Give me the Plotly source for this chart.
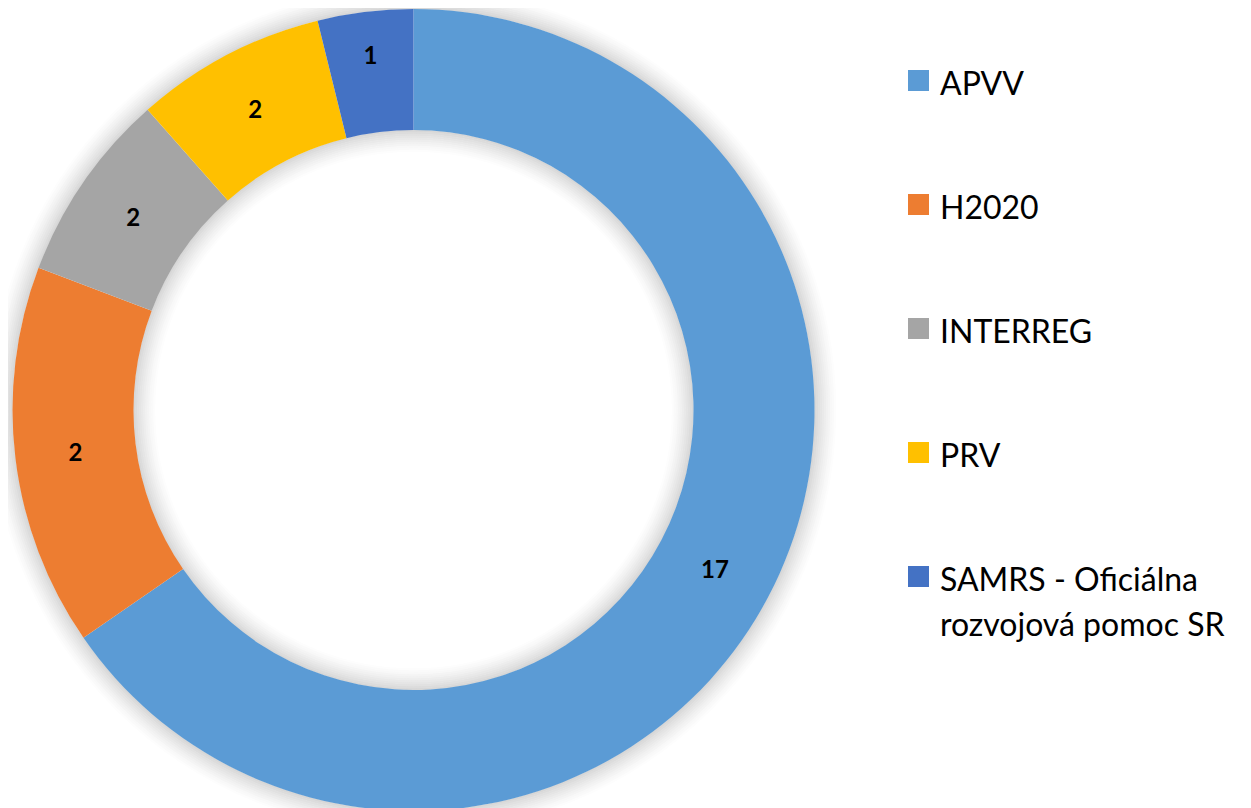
import plotly.graph_objects as go

# Data
categories = ["APVV", "H2020", "INTERREG", "PRV", "SAMRS - Oficiálna<br>rozvojová pomoc SR"]
slice_sizes = [17, 4, 2, 2, 1]             # angular share measured from the ring
label_values = ["17", "2", "2", "2", "1"]  # numbers printed on the slices
colors = ["#5B9BD5", "#ED7D31", "#A5A5A5", "#FFC000", "#4472C4"]

W, H = 1251, 808
OFF = 8  # page body margin offset

# ring geometry in screenshot pixels
cx, cy, r_out, r_in = 413.5, 410.0, 401.0, 280.0


def px_x(x):
    return (x - OFF) / W


def px_y(y):
    return 1 - (y - OFF) / H


fig = go.Figure()
fig.add_trace(go.Pie(
    labels=categories,
    values=slice_sizes,
    text=label_values,
    texttemplate="%{text}",
    textposition="inside",
    insidetextorientation="horizontal",
    textfont=dict(family="Lato", size=24, color="black", weight="bold"),
    hole=r_in / r_out,
    sort=False,
    direction="clockwise",
    rotation=0,
    marker=dict(colors=colors, line=dict(width=0)),
    showlegend=False,
    hoverinfo="label+value",
    domain=dict(x=[px_x(cx - r_out), px_x(cx + r_out)],
                y=[px_y(cy + r_out), px_y(cy - r_out)]),
))

shapes = []
# soft shadow around the ring (stroked circles, drawn below the pie)
N = 12
for k in range(N):
    t = (k + 0.5) / N
    g = int(round(255 - 42 * (1 - t) ** 1.4))
    col = f"rgb({g},{g},{g})"
    for r in (r_out + 2 * k + 1, r_in - 2 * k - 1):
        shapes.append(dict(type="circle", xref="paper", yref="paper", layer="below",
                           x0=px_x(cx - r), x1=px_x(cx + r),
                           y0=px_y(cy + r), y1=px_y(cy - r),
                           line=dict(color=col, width=2.6), fillcolor="rgba(0,0,0,0)"))

# Custom legend (squares + labels) with wide spacing as in the reference
annotations = []
y0 = 80.5
step = 124
sq = 21
for i, (cat, col) in enumerate(zip(categories, colors)):
    yc = y0 + i * step
    shapes.append(dict(type="rect", xref="paper", yref="paper",
                       x0=px_x(908), x1=px_x(908 + sq),
                       y0=px_y(yc - sq / 2), y1=px_y(yc + sq / 2),
                       fillcolor=col, line=dict(width=0)))
    for j, line in enumerate(cat.split("<br>")):
        ly = yc + j * 45 + 2
        annotations.append(dict(text=line, xref="paper", yref="paper",
                                x=px_x(938), y=px_y(ly), xanchor="left", yanchor="middle",
                                showarrow=False,
                                font=dict(family="Lato", size=32, color="black")))

fig.update_layout(
    width=W, height=H,
    margin=dict(l=0, r=0, t=0, b=0),
    paper_bgcolor="white",
    plot_bgcolor="white",
    shapes=shapes,
    annotations=annotations,
)

fig.write_html("out.html")
